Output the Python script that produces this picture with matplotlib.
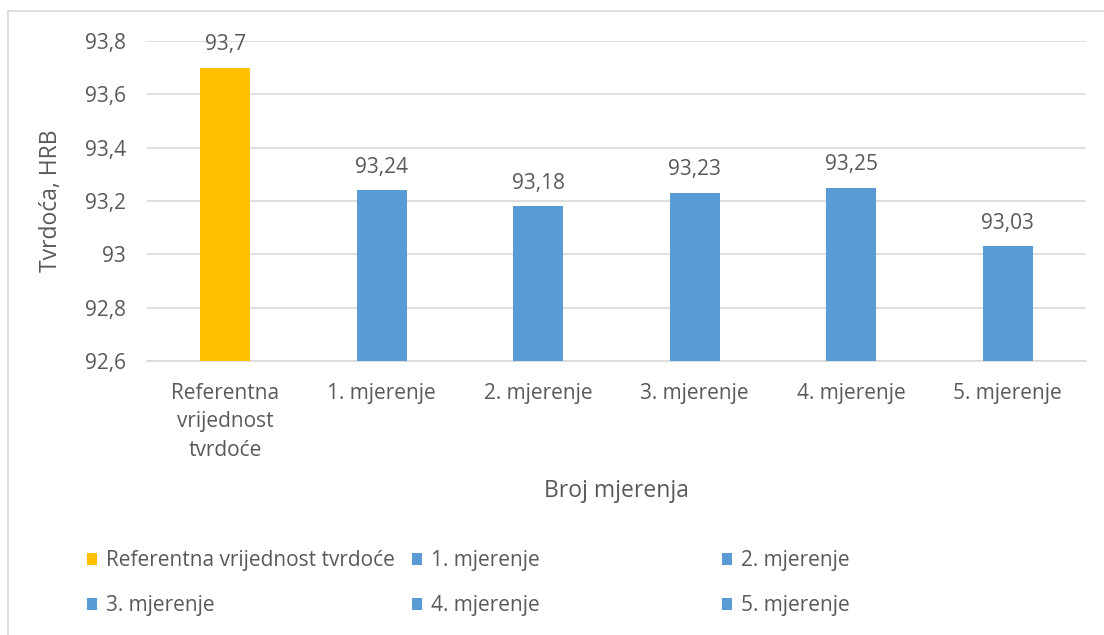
import matplotlib.pyplot as plt
from matplotlib.patches import Patch
from matplotlib.lines import Line2D

categories = ['Referentna\nvrijednost\ntvrdoće', '1. mjerenje', '2. mjerenje',
              '3. mjerenje', '4. mjerenje', '5. mjerenje']
legend_names = ['Referentna vrijednost tvrdoće', '1. mjerenje', '2. mjerenje',
                '3. mjerenje', '4. mjerenje', '5. mjerenje']
values = [93.7, 93.24, 93.18, 93.23, 93.25, 93.03]
value_labels = ['93,7', '93,24', '93,18', '93,23', '93,25', '93,03']
yticks = [92.6, 92.8, 93.0, 93.2, 93.4, 93.6, 93.8]

gold = '#FFC000'
blue = '#5B9BD5'
colors = [gold, blue, blue, blue, blue, blue]
txt = '#595959'
grid = '#D9D9D9'

plt.rcParams['font.family'] = ['Open Sans', 'DejaVu Sans']

fig = plt.figure(figsize=(11.04, 6.35), dpi=100)
ax = fig.add_axes([147/1104, 1 - 361/635, (1086 - 147)/1104, (361 - 41)/635])

x = range(len(values))
bars = ax.bar(x, [v - yticks[0] for v in values], bottom=yticks[0],
              width=0.32, color=colors, zorder=3)
ax.bar_label(bars, labels=value_labels, padding=9, fontsize=15, color=txt)

ax.set_xlim(-0.5, len(values) - 0.5)
ax.set_ylim(yticks[0], yticks[-1])
ax.set_yticks(yticks)
ax.set_yticklabels([f'{v:g}'.replace('.', ',') for v in yticks])
ax.set_xticks(list(x))
ax.set_xticklabels(categories, linespacing=1.45)
ax.tick_params(length=0, labelsize=15, colors=txt)
ax.tick_params(axis='y', pad=15)
ax.tick_params(axis='x', pad=16)

ax.grid(axis='y', color=grid, linewidth=1.2, zorder=0)
for s in ['top', 'right', 'left']:
    ax.spines[s].set_visible(False)
ax.spines['bottom'].set_color(grid)
ax.spines['bottom'].set_linewidth(1.2)

ax.set_xlabel('Broj mjerenja', fontsize=16.5, color=txt, labelpad=13)
ax.set_ylabel('Tvrdoća, HRB', fontsize=16.5, color=txt, labelpad=16)

# legend: three columns placed by hand, filled row-wise like the original
col_x = [87, 412, 722]
for c in range(3):
    idx = [c, c + 3]
    handles = [Patch(facecolor=colors[i], edgecolor='none') for i in idx]
    fig.legend(handles, [legend_names[i] for i in idx],
               loc='upper left', bbox_to_anchor=(col_x[c] / 1104, 1 - 550 / 635),
               frameon=False, fontsize=15, labelcolor=txt,
               handlelength=0.5, handleheight=0.5, handletextpad=0.4,
               labelspacing=1.15, borderpad=0, borderaxespad=0)

# chart frame (top and left edges visible)
fig.add_artist(Line2D([8/1104, 8/1104], [0, 1 - 11/635], color=grid, linewidth=1.2))
fig.add_artist(Line2D([8/1104, 1], [1 - 11/635, 1 - 11/635], color=grid, linewidth=1.2))

fig.savefig('out.png', dpi=100)
